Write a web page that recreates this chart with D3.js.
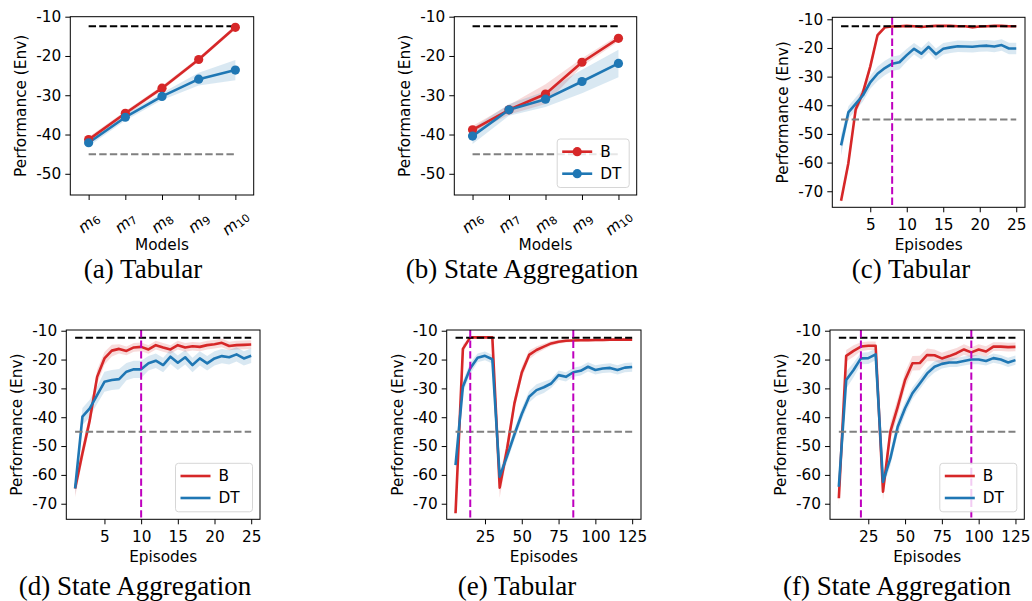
<!DOCTYPE html>
<html>
<head>
<meta charset="utf-8">
<script src="https://cdn.jsdelivr.net/npm/d3@7"></script>
<style>
  body { margin: 0; background: #fff; }
  svg text { font-family: "DejaVu Sans", sans-serif; fill: #000; }
  svg text.caption { font-family: "Liberation Serif", serif; }
</style>
</head>
<body>
<svg id="chart" width="1032" height="601"></svg>
<script>
// Model indices used on the x axis of the first two panels (m6 .. m10).
const models = [6, 7, 8, 9, 10];

// Episode numbers for the short and the long runs.
const episodesShort = [1, 2, 3, 4, 5, 6, 7, 8, 9, 10, 11, 12, 13, 14, 15, 16, 17, 18, 19, 20, 21, 22, 23, 24, 25];
const episodesLong = [5, 10, 15, 20, 25, 30, 35, 40, 45, 50, 55, 60, 65, 70, 75, 80, 85, 90, 95, 100, 105, 110, 115, 120, 125];

// Reference levels (black and gray dashed lines).
const optimalLevel = -12.4;
const baselineLevel = -45;

const yTicksModels = [-10, -20, -30, -40, -50];
const yTicksEpisodes = [-10, -20, -30, -40, -50, -60, -70];
const xTicksShort = [5, 10, 15, 20, 25];
const xTicksLong = [25, 50, 75, 100, 125];

// (a) Tabular, per model
const aB = [-41.3, -34.6, -28.2, -20.9, -12.7];
const aBErr = [0.7, 0.6, 0.6, 0.5, 0.5];
const aDT = [-42.1, -35.6, -30.3, -25.9, -23.6];
const aDTErr = [0.9, 0.8, 0.9, 1.6, 2.6];

// (b) State Aggregation, per model
const bB = [-38.8, -33.7, -29.7, -21.6, -15.5];
const bBErr = [1.0, 1.2, 2.5, 1.0, 0.8];
const bDT = [-40.4, -33.7, -31.0, -26.5, -21.9];
const bDTErr = [2.0, 1.5, 2.0, 3.0, 3.5];

// (c) Tabular, per episode
const cB = [-73.3, -60.2, -41.5, -35.5, -26.5, -15.5, -12.8, -12.5, -12.4, -12.3, -12.4, -12.7, -12.4, -12.3, -12.3,
  -12.3, -12.4, -12.4, -12.8, -12.5, -12.4, -12.3, -12.3, -12.4, -12.4];
const cBErr = [0.6, 2.0, 1.8, 1.5, 1.5, 1.0, 0.5, 0.3, 0.3, 0.3, 0.3, 0.4, 0.3, 0.3, 0.3,
  0.3, 0.3, 0.3, 0.6, 0.4, 0.3, 0.3, 0.3, 0.3, 0.3];
const cDT = [-54, -42.5, -39.5, -36.5, -32, -29, -27, -25.5, -25, -22.5, -20.3, -22, -19.6, -22.2, -20.3,
  -19.8, -19.4, -19.5, -19.6, -19.3, -19.2, -19.5, -19, -20.2, -20.2];
const cDTErr = [3.5, 2.2, 2.2, 2.2, 2.2, 2.5, 2.5, 2.5, 2.5, 2.2, 2.0, 2.0, 2.0, 2.0, 2.0,
  2.0, 2.0, 2.0, 2.0, 2.0, 2.0, 2.0, 2.0, 2.0, 2.0];

// (d) State Aggregation, per episode
const dB = [-64.7, -52.5, -41, -26, -19.6, -16.9, -16.3, -17.0, -15.8, -15.6, -16.5, -15.0, -15.8, -16.5, -15.0,
  -15.8, -15.4, -15.6, -15.0, -14.7, -14.2, -15.3, -15.0, -14.9, -14.8];
const dBErr = [3.0, 2.5, 2.5, 2.5, 2.2, 2.0, 1.6, 1.5, 1.5, 1.5, 1.5, 1.5, 1.5, 1.5, 1.5,
  1.5, 1.5, 1.5, 1.5, 1.5, 1.5, 1.5, 1.5, 1.5, 1.5];
const dDT = [-64.7, -39.8, -36.9, -32.3, -27.7, -27.1, -26.8, -24.2, -23.4, -23.4, -21.3, -20.4, -21.9, -19.0, -21.1,
  -19.2, -21.9, -19.6, -21.3, -19.6, -18.8, -19.2, -18.2, -19.6, -18.7];
const dDTErr = [2.0, 3.0, 3.0, 3.0, 3.5, 3.5, 3.5, 3.0, 3.0, 3.0, 2.5, 2.5, 2.5, 2.5, 2.5,
  2.5, 2.5, 2.5, 2.5, 2.5, 2.5, 2.5, 2.5, 2.5, 2.5];

// (e) Tabular, per episode (long run)
const eB = [-73.3, -16.3, -12.3, -12.3, -12.3, -12.3, -64.4, -51, -35.2, -24.5, -18.4, -16.7, -15.5, -14.4, -13.8,
  -13.5, -13.4, -13.3, -13.3, -13.2, -13.2, -13.1, -13.1, -13.1, -13.1];
const eBErr = [1.0, 1.5, 0.3, 0.3, 0.3, 0.3, 3.5, 3.0, 2.2, 2.0, 1.5, 1.2, 1.0, 0.8, 0.7,
  0.6, 0.5, 0.5, 0.5, 0.5, 0.5, 0.5, 0.5, 0.5, 0.5];
const eDT = [-56.6, -29.4, -23, -19.4, -18.7, -19.9, -60.6, -53.5, -46, -38.9, -32.9, -30.6, -29.6, -28.3, -25.4,
  -26, -24.4, -23.9, -22.5, -23.6, -23.1, -22.9, -23.6, -22.8, -22.6];
const eDTErr = [1.5, 2.0, 2.0, 1.5, 1.5, 1.5, 2.0, 2.0, 2.0, 2.0, 2.0, 2.0, 2.0, 1.6, 1.6,
  1.6, 1.6, 1.6, 1.6, 1.6, 1.6, 1.6, 1.6, 1.6, 1.6];

// (f) State Aggregation, per episode (long run)
const fB = [-68.1, -18.7, -17, -15.5, -15.2, -15.2, -65.8, -45, -36.4, -27.1, -21.3, -21.2, -18.4, -18.5, -19.6,
  -18.8, -17.8, -16.5, -17.5, -16.5, -17.2, -15.5, -15.5, -15.7, -15.6];
const fBErr = [2.5, 2.0, 2.0, 1.5, 1.5, 1.5, 3.0, 3.0, 3.0, 2.8, 2.5, 2.5, 2.2, 2.0, 2.0,
  2.0, 1.8, 1.8, 1.8, 1.8, 1.8, 1.5, 1.5, 1.5, 1.5];
const fDT = [-64.1, -27.1, -23.6, -19.6, -19.5, -18.2, -62.4, -54.3, -43.3, -36.9, -31.7, -28.3, -24.8, -22.5, -21.5,
  -21, -21, -20.5, -20, -20, -20.5, -19.5, -20, -21, -20.2];
const fDTErr = [2.0, 3.0, 2.5, 2.0, 2.0, 2.0, 2.2, 2.5, 2.5, 2.2, 2.0, 2.0, 2.0, 2.0, 1.6,
  1.6, 1.6, 1.6, 1.6, 1.6, 1.6, 1.6, 1.6, 1.6, 1.6];

const RED = '#d62728';
const BLUE = '#1f77b4';
const MAGENTA = '#bf00bf';
const FONT_SIZE = 15.3;

// Layout of each subplot (pixel box of the axes frame).
const panels = [
  {xs: models, b: aB, bErr: aBErr, dt: aDT, dtErr: aDTErr, kind: 'models',
   box: {left: 70.3, right: 253.7, top: 16.7, bottom: 195}, yDomain: [-55.4, -10], yTicks: yTicksModels,
   vlines: [], legend: null, caption: '(a) Tabular', capX: 143, capY: 278},
  {xs: models, b: bB, bErr: bBErr, dt: bDT, dtErr: bDTErr, kind: 'models',
   box: {left: 454.3, right: 636.7, top: 16.7, bottom: 195}, yDomain: [-55.4, -10], yTicks: yTicksModels,
   vlines: [], legend: {markers: true}, caption: '(b) State Aggregation', capX: 522, capY: 278},
  {xs: episodesShort, b: cB, bErr: cBErr, dt: cDT, dtErr: cDTErr, kind: 'episodes',
   box: {left: 832.3, right: 1025, top: 17.3, bottom: 207.3}, yDomain: [-75.6, -9.3], yTicks: yTicksEpisodes,
   xDomain: [-0.2, 26.2], xTicks: xTicksShort, vlines: [8], legend: null,
   caption: '(c) Tabular', capX: 911, capY: 278},
  {xs: episodesShort, b: dB, bErr: dBErr, dt: dDT, dtErr: dDTErr, kind: 'episodes',
   box: {left: 66.3, right: 260, top: 330, bottom: 519.3}, yDomain: [-75.4, -9.75], yTicks: yTicksEpisodes,
   xDomain: [-0.2, 26.2], xTicks: xTicksShort, vlines: [10], legend: {markers: false},
   caption: '(d) State Aggregation', capX: 135, capY: 595},
  {xs: episodesLong, b: eB, bErr: eBErr, dt: eDT, dtErr: eDTErr, kind: 'episodes',
   box: {left: 446.7, right: 641, top: 330, bottom: 519.3}, yDomain: [-75.4, -9.75], yTicks: yTicksEpisodes,
   xDomain: [-1, 131], xTicks: xTicksLong, vlines: [15, 85], legend: null,
   caption: '(e) Tabular', capX: 517, capY: 595},
  {xs: episodesLong, b: fB, bErr: fBErr, dt: fDT, dtErr: fDTErr, kind: 'episodes',
   box: {left: 830, right: 1024.3, top: 330, bottom: 519.3}, yDomain: [-75.4, -9.75], yTicks: yTicksEpisodes,
   xDomain: [-1, 131], xTicks: xTicksLong, vlines: [20, 95], legend: {markers: false},
   caption: '(f) State Aggregation', capX: 897, capY: 595}
];

const svg = d3.select('#chart');

function styleAxis(g) {
  g.select('.domain').remove();
  g.selectAll('.tick line').attr('stroke', '#000').attr('stroke-width', 1);
  g.selectAll('.tick text')
    .attr('font-family', '"DejaVu Sans", sans-serif')
    .attr('font-size', FONT_SIZE);
}

function drawPanel(p) {
  const {left, right, top, bottom} = p.box;
  const g = svg.append('g');

  const x = p.kind === 'models'
    ? d3.scalePoint().domain(p.xs).range([left, right]).padding(0.5)
    : d3.scaleLinear().domain(p.xDomain).range([left, right]);
  const y = d3.scaleLinear().domain(p.yDomain).range([bottom, top]);

  const series = [
    {values: p.b, errs: p.bErr, color: RED},
    {values: p.dt, errs: p.dtErr, color: BLUE}
  ].map(s => ({...s, points: p.xs.map((v, i) => ({x: v, v: s.values[i], e: s.errs[i]}))}));

  // Shaded spread bands.
  const area = d3.area()
    .x(d => x(d.x))
    .y0(d => y(d.v - d.e))
    .y1(d => y(d.v + d.e));
  for (const s of series) {
    g.append('path').attr('d', area(s.points)).attr('fill', s.color).attr('opacity', 0.17);
  }

  // Mean lines.
  const line = d3.line().x(d => x(d.x)).y(d => y(d.v));
  for (const s of series) {
    g.append('path').attr('d', line(s.points))
      .attr('fill', 'none').attr('stroke', s.color).attr('stroke-width', 2.6)
      .attr('stroke-linejoin', 'round');
  }

  // Reference levels spanning the data range.
  const x0 = x(p.xs[0]);
  const x1 = x(p.xs[p.xs.length - 1]);
  [[optimalLevel, '#000'], [baselineLevel, '#808080']].forEach(([level, color]) => {
    g.append('line')
      .attr('x1', x0).attr('x2', x1).attr('y1', y(level)).attr('y2', y(level))
      .attr('stroke', color).attr('stroke-width', 2).attr('stroke-dasharray', '7.4,3.2');
  });

  if (p.kind === 'models') {
    for (const s of series) {
      g.selectAll(null).data(s.points).join('circle')
        .attr('cx', d => x(d.x)).attr('cy', d => y(d.v)).attr('r', 4.6)
        .attr('fill', s.color);
    }
  }

  // Vertical markers.
  for (const v of p.vlines) {
    g.append('line')
      .attr('x1', x(v)).attr('x2', x(v)).attr('y1', top).attr('y2', bottom)
      .attr('stroke', MAGENTA).attr('stroke-width', 2).attr('stroke-dasharray', '7.4,3.2');
  }

  // Frame.
  g.append('rect')
    .attr('x', left).attr('y', top).attr('width', right - left).attr('height', bottom - top)
    .attr('fill', 'none').attr('stroke', '#000').attr('stroke-width', 1);

  // Y axis.
  const yAxis = d3.axisLeft(y).tickValues(p.yTicks).tickSize(5).tickPadding(4)
    .tickFormat(d => String(d));
  g.append('g').attr('transform', `translate(${left},0)`).call(yAxis).call(styleAxis);

  // X axis.
  if (p.kind === 'models') {
    const xAxis = d3.axisBottom(x).tickSize(5).tickFormat(() => '');
    g.append('g').attr('transform', `translate(0,${bottom})`).call(xAxis).call(styleAxis);
    for (const m of p.xs) {
      const t = g.append('text')
        .attr('transform', `translate(${x(m)},${bottom + 28}) rotate(-40)`)
        .attr('text-anchor', 'middle').attr('dominant-baseline', 'central')
        .attr('font-size', FONT_SIZE);
      t.append('tspan').attr('font-style', 'italic').text('m');
      t.append('tspan').attr('font-size', 11).attr('dy', 3).text(m);
    }
  } else {
    const xAxis = d3.axisBottom(x).tickValues(p.xTicks).tickSize(5).tickPadding(6.5)
      .tickFormat(d => String(d));
    g.append('g').attr('transform', `translate(0,${bottom})`).call(xAxis).call(styleAxis);
  }

  // Axis titles.
  g.append('text')
    .attr('transform', `translate(${left - 49},${(top + bottom) / 2}) rotate(-90)`)
    .attr('text-anchor', 'middle').attr('dominant-baseline', 'central')
    .attr('font-size', FONT_SIZE).text('Performance (Env)');
  g.append('text')
    .attr('x', (left + right) / 2)
    .attr('y', bottom + (p.kind === 'models' ? 50 : 37.5))
    .attr('text-anchor', 'middle').attr('dominant-baseline', 'central')
    .attr('font-size', FONT_SIZE).text(p.kind === 'models' ? 'Models' : 'Episodes');

  // Legend in the lower right corner.
  if (p.legend) {
    const w = p.legend.markers ? 72 : 77;
    const h = 48.5;
    const lx = right - 7.5 - w;
    const ly = bottom - 7.5 - h;
    g.append('rect')
      .attr('x', lx).attr('y', ly).attr('width', w).attr('height', h).attr('rx', 3)
      .attr('fill', '#fff').attr('fill-opacity', 0.8)
      .attr('stroke', '#d6d6d6').attr('stroke-width', 1);
    [['B', RED], ['DT', BLUE]].forEach(([name, color], i) => {
      const ry = ly + 12.7 + i * 22;
      g.append('line')
        .attr('x1', lx + 5).attr('x2', lx + 35).attr('y1', ry).attr('y2', ry)
        .attr('stroke', color).attr('stroke-width', 2.6);
      if (p.legend.markers) {
        g.append('circle').attr('cx', lx + 20).attr('cy', ry).attr('r', 4.6).attr('fill', color);
      }
      g.append('text')
        .attr('x', lx + 43).attr('y', ry).attr('dominant-baseline', 'central')
        .attr('font-size', FONT_SIZE).text(name);
    });
  }

  // Sub-caption.
  svg.append('text').attr('class', 'caption')
    .attr('x', p.capX).attr('y', p.capY)
    .attr('text-anchor', 'middle').attr('font-size', 27)
    .text(p.caption);
}

panels.forEach(drawPanel);
</script>
</body>
</html>
